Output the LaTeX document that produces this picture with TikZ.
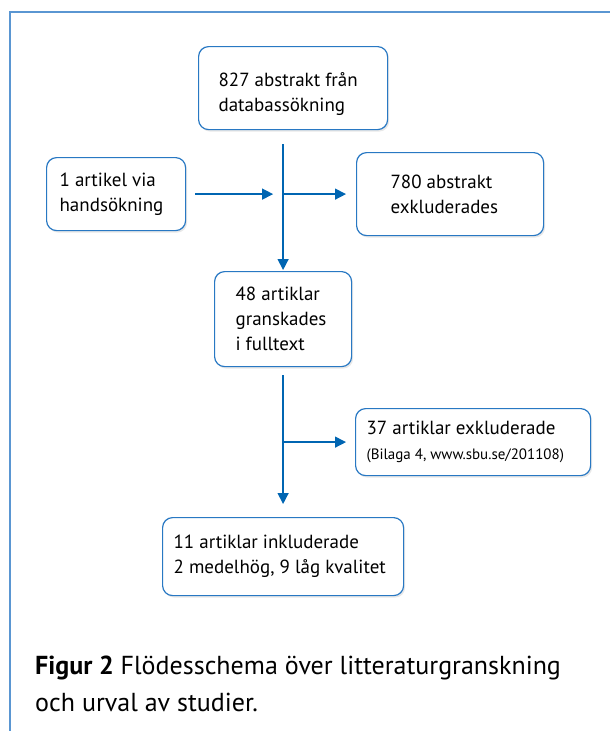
\documentclass[tikz,border=0pt]{standalone}
\usepackage{fontspec}
\setmainfont{PT Sans}
\usepackage{tikz}
\usetikzlibrary{positioning,arrows.meta,shadows}
\definecolor{sbublue}{RGB}{0,101,178}
\definecolor{sbuedge}{RGB}{40,120,195}
\definecolor{sbuframe}{RGB}{90,150,210}
\tikzset{
  box/.style={draw=sbuedge, line width=1.2pt, fill=white, rounded corners=10pt,
              align=flush left, anchor=north west, inner sep=0pt,
              font=\fontsize{19}{25}\selectfont,
              drop shadow={shadow xshift=1.5pt, shadow yshift=-2pt, opacity=0.18}},
  flow/.style={-{Triangle[length=11pt, width=11pt]}, line width=1.4pt, color=sbublue},
  frame/.style={line width=1.5pt, color=sbuframe},
  capt/.style={anchor=north west, inner sep=0pt, align=left,
               font=\fontsize{26}{37}\selectfont},
}
\begin{document}
\begin{tikzpicture}[x=1pt, y=-1pt]
\useasboundingbox (0,0) rectangle (610,731);
\draw[frame] (10,731) -- (10,12) -- (610,12);
\node[box, minimum width=189, minimum height=83, text width=149, text height=26] (db) at (198,46) {827 abstrakt från\\databassökning};
\node[box, minimum width=139, minimum height=73, text width=113] (hand) at (46,157) {1 artikel via\\handsökning};
\node[box, minimum width=187, minimum height=83, text width=119] (excl) at (356,152) {780 abstrakt\\exkluderades};
\node[box, minimum width=137, minimum height=95, text width=95] (full) at (214,271) {48 artiklar\\granskades\\i fulltext};
\node[box, minimum width=235, minimum height=67, text width=213] (excltwo) at (355,408) {37 artiklar exkluderade\\{\fontsize{15}{18}\selectfont (Bilaga 4, www.sbu.se/201108)}};
\node[box, minimum width=241, minimum height=78, text width=219] (incl) at (162,517) {11 artiklar inkluderade\\2 medelhög, 9 låg kvalitet};
\coordinate (jone) at (full.north |- hand.east);
\coordinate (jtwo) at (full.south |- excltwo.west);
\draw[flow, shorten >=1pt] ([yshift=-14]db.south -| full.north) -- (full.north);
\draw[flow, shorten <=9pt, shorten >=10pt] (hand.east) -- (jone);
\draw[flow, shorten >=10pt] (jone) -- (jone -| excl.west);
\draw[flow, shorten <=8pt, shorten >=13pt] (full.south) -- (incl.north);
\draw[flow, shorten >=9pt] (jtwo) -- (excltwo.west);
\node[capt] (cap) at (35,656) {\textbf{Figur 2} Flödesschema över litteraturgranskning\\och urval av studier.};
\end{tikzpicture}
\end{document}
